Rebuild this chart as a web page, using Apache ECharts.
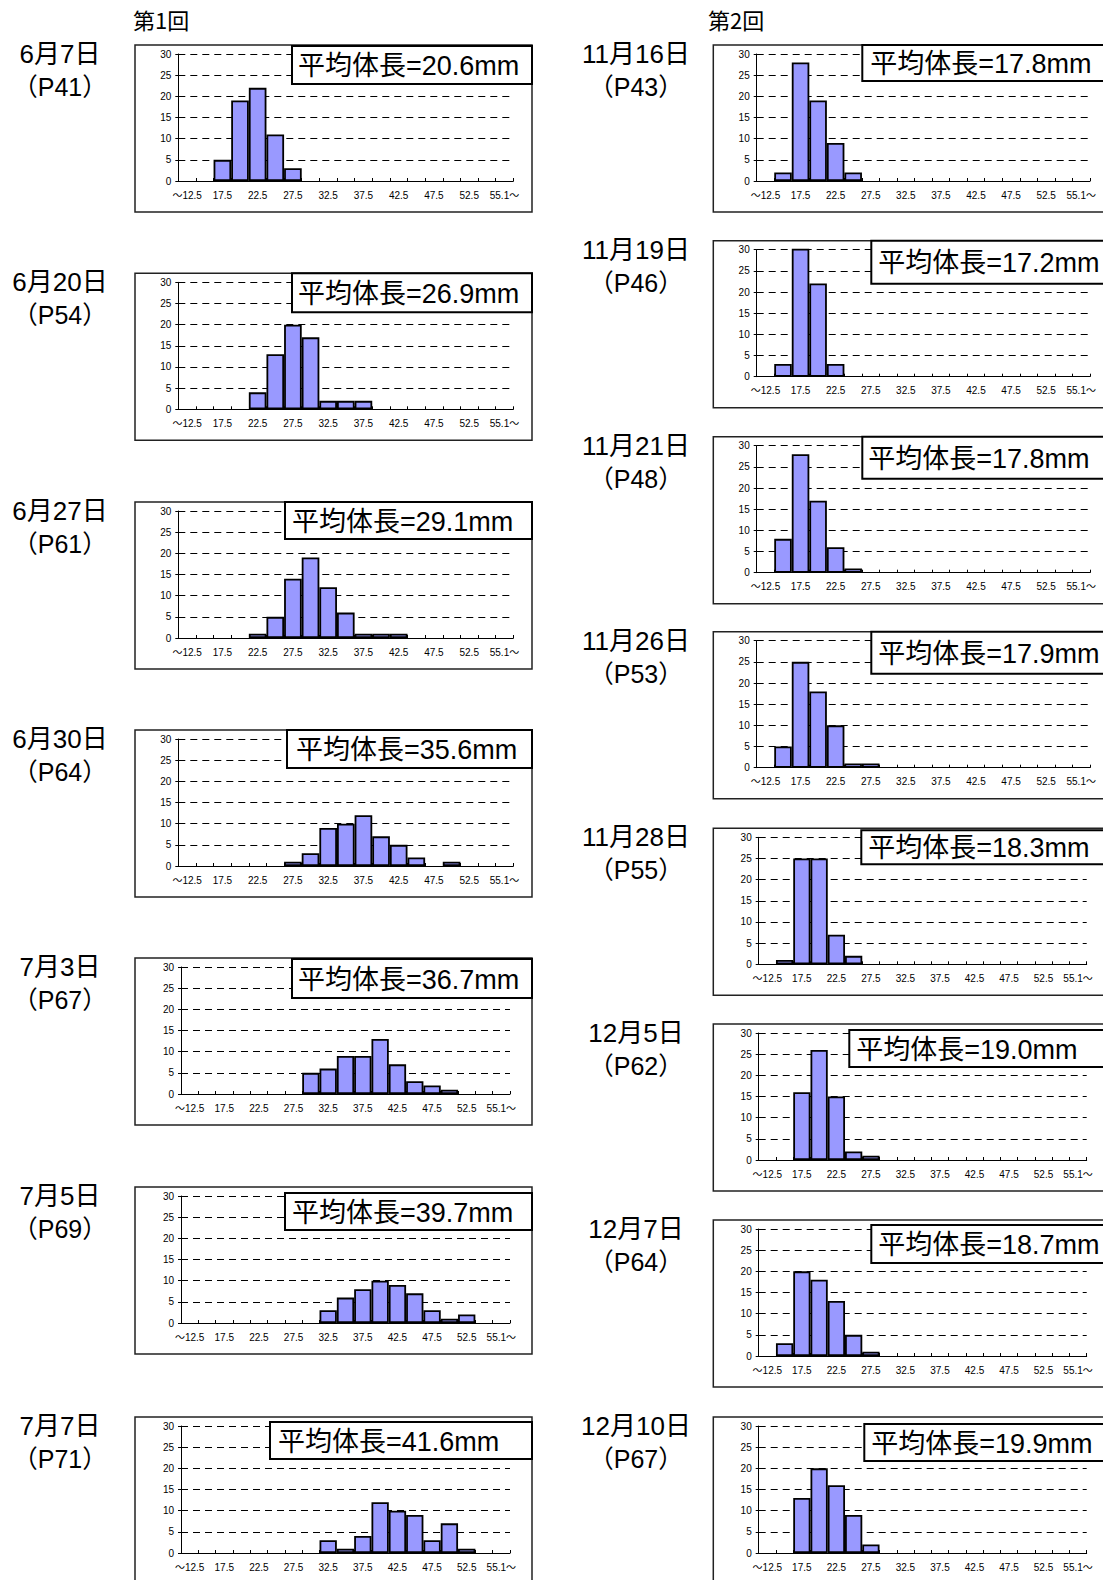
<!DOCTYPE html>
<html lang="ja">
<head>
<meta charset="utf-8">
<title>体長組成</title>
<script src="https://cdn.jsdelivr.net/npm/echarts@6/dist/echarts.min.js"></script>
<style>
  html, body { margin: 0; padding: 0; background: #fff; }
  #chart { width: 1103px; height: 1580px; }
</style>
</head>
<body>
<div id="chart"></div>
<script>
// Body-length classes (mm); only every other class is labelled on the axis.
const CATEGORIES = ['～12.5', '15.0', '17.5', '20.0', '22.5', '25.0', '27.5', '30.0', '32.5', '35.0',
  '37.5', '40.0', '42.5', '45.0', '47.5', '50.0', '52.5', '55.0', '55.1～'];

const ROUND_TITLES = ['第1回', '第2回'];

// Round 1
const DATES_1 = ['6月7日', '6月20日', '6月27日', '6月30日', '7月3日', '7月5日', '7月7日'];
const PAGES_1 = ['（P41）', '（P54）', '（P61）', '（P64）', '（P67）', '（P69）', '（P71）'];
const MEANS_1 = [20.6, 26.9, 29.1, 35.6, 36.7, 39.7, 41.6];
const COUNTS_0607 = [0, 0, 5, 19, 22, 11, 3, 0, 0, 0, 0, 0, 0, 0, 0, 0, 0, 0, 0];
const COUNTS_0620 = [0, 0, 0, 0, 4, 13, 20, 17, 2, 2, 2, 0, 0, 0, 0, 0, 0, 0, 0];
const COUNTS_0627 = [0, 0, 0, 0, 1, 5, 14, 19, 12, 6, 1, 1, 1, 0, 0, 0, 0, 0, 0];
const COUNTS_0630 = [0, 0, 0, 0, 0, 0, 1, 3, 9, 10, 12, 7, 5, 2, 0, 1, 0, 0, 0];
const COUNTS_0703 = [0, 0, 0, 0, 0, 0, 0, 5, 6, 9, 9, 13, 7, 3, 2, 1, 0, 0, 0];
const COUNTS_0705 = [0, 0, 0, 0, 0, 0, 0, 0, 3, 6, 8, 10, 9, 7, 3, 1, 2, 0, 0];
const COUNTS_0707 = [0, 0, 0, 0, 0, 0, 0, 0, 3, 1, 4, 12, 10, 9, 3, 7, 1, 0, 0];

// Round 2
const DATES_2 = ['11月16日', '11月19日', '11月21日', '11月26日', '11月28日', '12月5日', '12月7日', '12月10日'];
const PAGES_2 = ['（P43）', '（P46）', '（P48）', '（P53）', '（P55）', '（P62）', '（P64）', '（P67）'];
const MEANS_2 = [17.8, 17.2, 17.8, 17.9, 18.3, 19.0, 18.7, 19.9];
const COUNTS_1116 = [0, 2, 28, 19, 9, 2, 0, 0, 0, 0, 0, 0, 0, 0, 0, 0, 0, 0, 0];
const COUNTS_1119 = [0, 3, 32, 22, 3, 0, 0, 0, 0, 0, 0, 0, 0, 0, 0, 0, 0, 0, 0];
const COUNTS_1121 = [0, 8, 28, 17, 6, 1, 0, 0, 0, 0, 0, 0, 0, 0, 0, 0, 0, 0, 0];
const COUNTS_1126 = [0, 5, 25, 18, 10, 1, 1, 0, 0, 0, 0, 0, 0, 0, 0, 0, 0, 0, 0];
const COUNTS_1128 = [0, 1, 25, 25, 7, 2, 0, 0, 0, 0, 0, 0, 0, 0, 0, 0, 0, 0, 0];
const COUNTS_1205 = [0, 0, 16, 26, 15, 2, 1, 0, 0, 0, 0, 0, 0, 0, 0, 0, 0, 0, 0];
const COUNTS_1207 = [0, 3, 20, 18, 13, 5, 1, 0, 0, 0, 0, 0, 0, 0, 0, 0, 0, 0, 0];
const COUNTS_1210 = [0, 0, 13, 20, 16, 9, 2, 0, 0, 0, 0, 0, 0, 0, 0, 0, 0, 0, 0];

const COUNTS_1 = [COUNTS_0607, COUNTS_0620, COUNTS_0627, COUNTS_0630, COUNTS_0703, COUNTS_0705, COUNTS_0707];
const COUNTS_2 = [COUNTS_1116, COUNTS_1119, COUNTS_1121, COUNTS_1126, COUNTS_1128, COUNTS_1205, COUNTS_1207, COUNTS_1210];

// ---- page layout (px) ----
const FONT = '"Noto Sans CJK JP", "Noto Sans", sans-serif';
const MIXED_FONT = '"Liberation Sans", "Noto Sans CJK JP", sans-serif';
const COLUMNS = [
  {
    boxLeft: 135, labelX: 60, titleX: 133,
    tops: [45, 273.3, 502, 730, 958, 1187, 1417],
    plotX: [[178.3, 513.3], [178.3, 513.3], [178.3, 513.3], [178.3, 513.3], [181, 510], [181, 510], [181, 510]],
    noteBoxX: [157, 157, 150, 152, 157, 150, 135],
    noteTextX: [163, 163, 157, 161, 163, 157, 143],
    noteBoxY: [1, 0, 0, 0, 1, 6, 5],
    noteBoxH: [38, 39, 37, 38, 39, 37, 37]
  },
  {
    boxLeft: 713.3, labelX: 636, titleX: 708,
    tops: [45, 240.7, 436.7, 631.7, 828.3, 1024, 1220, 1417],
    plotX: [[756.7, 1090], [756.7, 1090], [756.7, 1090], [756.7, 1090], [758.7, 1086.7], [758.7, 1086.7], [758.7, 1086.7], [758.7, 1086.7]],
    noteBoxX: [149, 158, 149, 158, 148, 136, 158, 151],
    noteTextX: [157, 165, 155, 165, 155, 143, 165, 158],
    noteBoxY: [0, 0, 0, 0, 2, 6, 5, 7],
    noteBoxH: [36, 43, 42, 42, 34, 37, 38, 37]
  }
];
const BOX_W = 397, BOX_H = 167;
const PLOT_TOP = 9, PLOT_H = 127;

const rounds = [
  { dates: DATES_1, pages: PAGES_1, means: MEANS_1, counts: COUNTS_1 },
  { dates: DATES_2, pages: PAGES_2, means: MEANS_2, counts: COUNTS_2 }
];

const grids = [], xAxes = [], yAxes = [], series = [], graphics = [];

rounds.forEach((round, c) => {
  const col = COLUMNS[c];
  graphics.push({
    type: 'text', x: col.titleX, y: 19, z: 50,
    style: { text: ROUND_TITLES[c], font: '22px ' + FONT, fill: '#000', align: 'left', verticalAlign: 'middle' }
  });
  round.dates.forEach((date, r) => {
    const k = grids.length;
    const top = col.tops[r];
    const [px0, px1] = col.plotX[r];

    grids.push({ left: px0, top: top + PLOT_TOP, width: px1 - px0, height: PLOT_H, containLabel: false });
    xAxes.push({
      type: 'category', gridIndex: k, data: CATEGORIES, boundaryGap: true,
      axisLine: { show: true, lineStyle: { color: '#000', width: 1 } },
      axisTick: { show: true, inside: true, length: 3, interval: 0, lineStyle: { color: '#000' } },
      axisLabel: { interval: 1, margin: 9, fontSize: 10, color: '#000', fontFamily: MIXED_FONT },
      splitLine: { show: false }
    });
    yAxes.push({
      type: 'value', gridIndex: k, min: 0, max: 30, interval: 5,
      axisLine: { show: true, lineStyle: { color: '#000', width: 1 } },
      axisTick: { show: true, inside: false, length: 3, lineStyle: { color: '#000' } },
      axisLabel: { margin: 7, fontSize: 10, color: '#000', fontFamily: MIXED_FONT },
      splitLine: { show: true, lineStyle: { color: '#000', width: 1, type: [7, 5] } }
    });
    series.push({
      type: 'bar', xAxisIndex: k, yAxisIndex: k,
      data: round.counts[r].map(v => (v === 0 ? '-' : v)),
      barCategoryGap: '0%', clip: true, silent: true,
      itemStyle: { color: '#9999ff', borderColor: '#000', borderWidth: 1.8 }
    });

    // frame of each histogram
    graphics.push({
      type: 'rect', z: 40, silent: true,
      shape: { x: col.boxLeft, y: top, width: BOX_W, height: BOX_H },
      style: { fill: null, stroke: '#222', lineWidth: 1.5 }
    });
    // date and page labels
    graphics.push({
      type: 'text', x: col.labelX, y: top + 9, z: 50,
      style: { text: date, font: '26px ' + MIXED_FONT, fill: '#000', align: 'center', verticalAlign: 'middle' }
    });
    graphics.push({
      type: 'text', x: col.labelX, y: top + 42, z: 50,
      style: { text: round.pages[r], font: '25px ' + MIXED_FONT, fill: '#000', align: 'center', verticalAlign: 'middle' }
    });
    // mean body length note
    const nbx = col.boxLeft + col.noteBoxX[r];
    const nby = top + col.noteBoxY[r];
    const nbh = col.noteBoxH[r];
    graphics.push({
      type: 'rect', z: 60, silent: true,
      shape: { x: nbx, y: nby, width: col.boxLeft + BOX_W - nbx, height: nbh },
      style: { fill: '#fff', stroke: '#000', lineWidth: 2 }
    });
    graphics.push({
      type: 'text', x: col.boxLeft + col.noteTextX[r], y: nby + nbh / 2 + 1, z: 61,
      style: {
        text: '平均体長=' + round.means[r].toFixed(1) + 'mm',
        font: '27px ' + MIXED_FONT, fill: '#000', align: 'left', verticalAlign: 'middle'
      }
    });
  });
});

const chart = echarts.init(document.getElementById('chart'), null, { renderer: 'svg', width: 1103, height: 1580 });
chart.setOption({
  backgroundColor: '#fff',
  animation: false,
  grid: grids,
  xAxis: xAxes,
  yAxis: yAxes,
  series: series,
  graphic: graphics
});
</script>
</body>
</html>
